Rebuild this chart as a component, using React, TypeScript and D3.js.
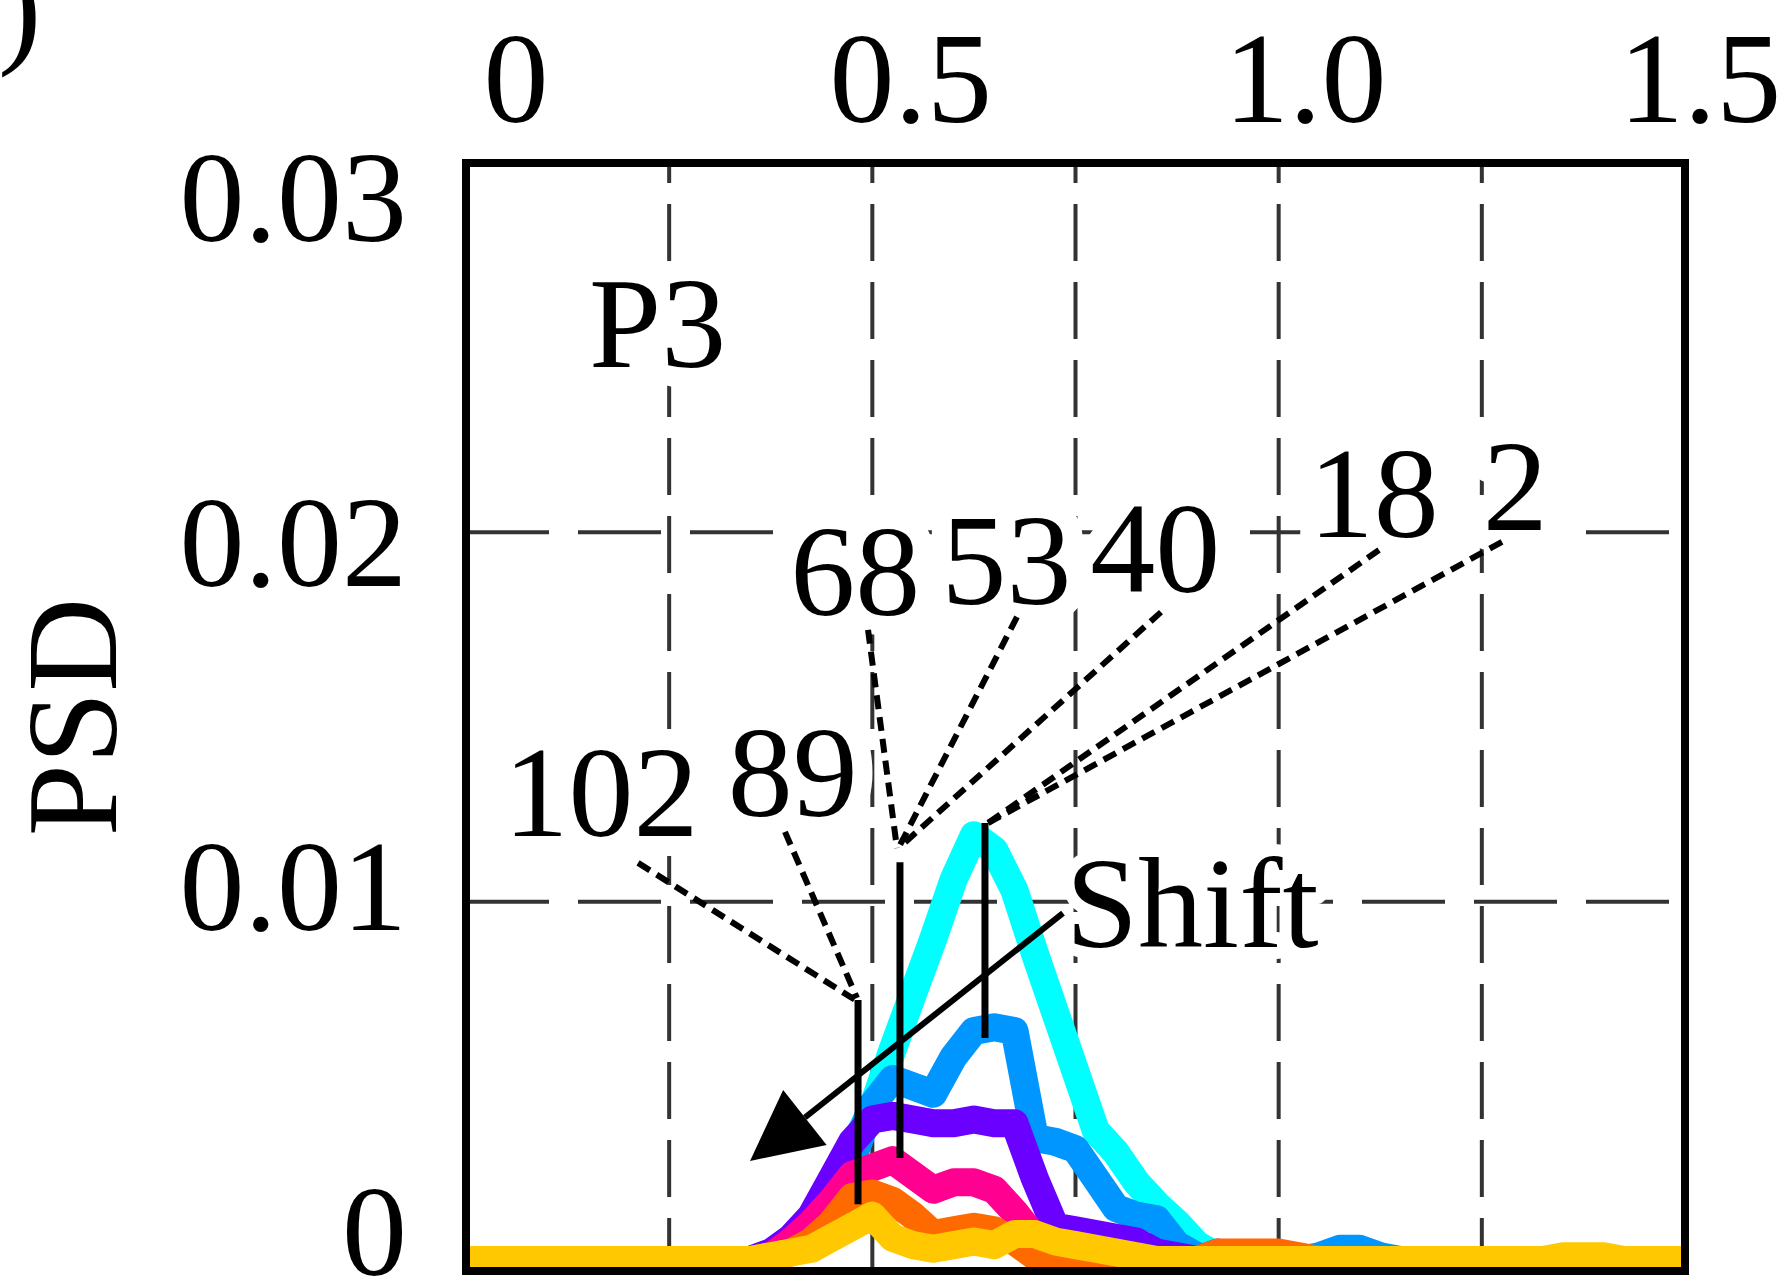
import React, { useEffect, useRef } from 'react';
import * as d3 from 'd3';

// frequency samples (top axis, 0 .. 1.5)
const freq = [
  0, 0.025, 0.05, 0.075, 0.1, 0.125, 0.15, 0.175, 0.2, 0.225,
  0.25, 0.275, 0.3, 0.325, 0.35, 0.375, 0.4, 0.425, 0.45, 0.475,
  0.5, 0.525, 0.55, 0.575, 0.6, 0.625, 0.65, 0.675, 0.7, 0.725,
  0.75, 0.775, 0.8, 0.825, 0.85, 0.875, 0.9, 0.925, 0.95, 0.975,
  1.0, 1.025, 1.05, 1.075, 1.1, 1.125, 1.15, 1.175, 1.2, 1.225,
  1.25, 1.275, 1.3, 1.325, 1.35, 1.375, 1.4, 1.425, 1.45, 1.475, 1.5,
];

// PSD curves, drawn in this order
const psdCyan = [
  0.0003, 0.0003, 0.0003, 0.0003, 0.0003, 0.0003, 0.0003, 0.0003, 0.0003, 0.0003,
  0.0003, 0.0003, 0.0003, 0.0003, 0.0003, 0.0004, 0.0007, 0.0012, 0.0020, 0.0033,
  0.0044, 0.0060, 0.0075, 0.0090, 0.0106, 0.0118, 0.0114, 0.0103, 0.0086, 0.0070,
  0.0054, 0.0038, 0.0032, 0.0024, 0.0018, 0.0013, 0.0007, 0.0004, 0.0003, 0.0003,
  0.0003, 0.0003, 0.0003, 0.0003, 0.0003, 0.0003, 0.0003, 0.0003, 0.0003, 0.0003,
  0.0003, 0.0003, 0.0003, 0.0003, 0.0003, 0.0003, 0.0003, 0.0003, 0.0003, 0.0003, 0.0003,
];
const psdBlue = [
  0.0003, 0.0003, 0.0003, 0.0003, 0.0003, 0.0003, 0.0003, 0.0003, 0.0003, 0.0003,
  0.0003, 0.0003, 0.0003, 0.0003, 0.0003, 0.0005, 0.0008, 0.0013, 0.0020, 0.0030,
  0.0045, 0.0052, 0.0050, 0.0048, 0.0058, 0.0065, 0.0066, 0.0065, 0.0036, 0.0035,
  0.0033, 0.0025, 0.0017, 0.0015, 0.0014, 0.0007, 0.0004, 0.0003, 0.0003, 0.0003,
  0.0003, 0.0003, 0.0004, 0.0006, 0.0006, 0.0004, 0.0003, 0.0003, 0.0003, 0.0003,
  0.0003, 0.0003, 0.0003, 0.0003, 0.0003, 0.0003, 0.0003, 0.0003, 0.0003, 0.0003, 0.0003,
];
const psdViolet = [
  0.0003, 0.0003, 0.0003, 0.0003, 0.0003, 0.0003, 0.0003, 0.0003, 0.0003, 0.0003,
  0.0003, 0.0003, 0.0003, 0.0003, 0.0003, 0.0005, 0.0009, 0.0015, 0.0025, 0.0035,
  0.0041, 0.0042, 0.0041, 0.0040, 0.0040, 0.0041, 0.0040, 0.0040, 0.0025, 0.0012,
  0.0011, 0.0010, 0.0009, 0.0008, 0.0005, 0.0004, 0.0003, 0.0005, 0.0003, 0.0003,
  0.0003, 0.0003, 0.0003, 0.0003, 0.0003, 0.0003, 0.0003, 0.0003, 0.0003, 0.0003,
  0.0003, 0.0003, 0.0003, 0.0003, 0.0003, 0.0003, 0.0003, 0.0003, 0.0003, 0.0003, 0.0003,
];
const psdPink = [
  0.0003, 0.0003, 0.0003, 0.0003, 0.0003, 0.0003, 0.0003, 0.0003, 0.0003, 0.0003,
  0.0003, 0.0003, 0.0003, 0.0003, 0.0003, 0.0004, 0.0008, 0.0013, 0.0019, 0.0026,
  0.0028, 0.0030, 0.0026, 0.0022, 0.0024, 0.0024, 0.0022, 0.0016, 0.0009, 0.0005,
  0.0003, 0.0003, 0.0003, 0.0003, 0.0003, 0.0003, 0.0003, 0.0003, 0.0003, 0.0003,
  0.0003, 0.0003, 0.0003, 0.0003, 0.0003, 0.0003, 0.0003, 0.0003, 0.0003, 0.0003,
  0.0003, 0.0003, 0.0003, 0.0003, 0.0003, 0.0003, 0.0003, 0.0003, 0.0003, 0.0003, 0.0003,
];
const psdOrange = [
  0.0003, 0.0003, 0.0003, 0.0003, 0.0003, 0.0003, 0.0003, 0.0003, 0.0003, 0.0003,
  0.0003, 0.0003, 0.0003, 0.0003, 0.0003, 0.0004, 0.0005, 0.0008, 0.0013, 0.0020,
  0.0021, 0.0019, 0.0015, 0.0010, 0.0011, 0.0012, 0.0011, 0.0008, 0.0004, 0.0002,
  0.0002, 0.0003, 0.0003, 0.0003, 0.0003, 0.0003, 0.0003, 0.0005, 0.0005, 0.0005,
  0.0005, 0.0004, 0.0003, 0.0003, 0.0003, 0.0003, 0.0003, 0.0003, 0.0003, 0.0003,
  0.0003, 0.0003, 0.0003, 0.0003, 0.0003, 0.0003, 0.0003, 0.0003, 0.0003, 0.0003, 0.0003,
];
const psdGold = [
  0.0003, 0.0003, 0.0003, 0.0003, 0.0003, 0.0003, 0.0003, 0.0003, 0.0003, 0.0003,
  0.0003, 0.0003, 0.0003, 0.0003, 0.0003, 0.0004, 0.0005, 0.0006, 0.0009, 0.0012,
  0.0015, 0.0009, 0.0007, 0.0006, 0.0007, 0.0008, 0.0007, 0.0010, 0.0010, 0.0008,
  0.0007, 0.0006, 0.0005, 0.0004, 0.0003, 0.0003, 0.0003, 0.0003, 0.0003, 0.0003,
  0.0003, 0.0003, 0.0003, 0.0003, 0.0003, 0.0003, 0.0003, 0.0003, 0.0003, 0.0003,
  0.0003, 0.0003, 0.0003, 0.0003, 0.0004, 0.0004, 0.0004, 0.0003, 0.0003, 0.0003, 0.0003,
];
const seriesValues = [psdCyan, psdBlue, psdViolet, psdPink, psdOrange, psdGold];
const seriesColors = ['#00ffff', '#0096ff', '#6a00ff', '#ff0090', '#ff6a00', '#ffc800'];

const xTicks = [0, 0.5, 1.0, 1.5];
const yTicks = [0, 0.01, 0.02, 0.03];
const xGrid = [0.25, 0.5, 0.75, 1.0, 1.25];
const yGrid = [0.01, 0.02];

// annotation numbers and where their dashed leaders go
const peakLabels = ['102', '89', '68', '53', '40', '18', '2'];
const labelX = [0.046, 0.322, 0.399, 0.585, 0.768, 1.037, 1.251];
const labelY = [0.01178, 0.01232, 0.01776, 0.01806, 0.01838, 0.01987, 0.02006];
const leaderFromX = [0.2117, 0.3925, 0.4947, 0.678, 0.8552, 1.1235, 1.2748];
const leaderFromY = [0.01105, 0.01189, 0.01736, 0.01771, 0.01784, 0.01952, 0.01974];
const leaderToX = [0.4787, 0.4811, 0.5303, 0.534, 0.534, 0.6423, 0.6423];
const leaderToY = [0.00734, 0.00739, 0.01145, 0.01153, 0.01148, 0.01213, 0.01213];

// solid peak markers
const markerX = [0.4824, 0.534, 0.6386];
const markerTop = [0.00734, 0.01107, 0.01213];
const markerBottom = [0.00181, 0.00306, 0.00631];

// "Shift" arrow
const shiftFrom = [0.7346, 0.00969];
const shiftTo = [0.3495, 0.00298];
const shiftText = [0.738, 0.00877];
const panelText = [0.1514, 0.02448];

const App = () => {
  const ref = useRef<SVGSVGElement>(null);

  useEffect(() => {
    const width = 1787;
    const height = 1281;
    const left = 466, right = 1685, top = 163, bottom = 1271;
    const font = "'Liberation Serif', 'Times New Roman', serif";

    const svg = d3.select(ref.current);
    svg.selectAll('*').remove();
    svg.attr('width', width).attr('height', height);

    const x = d3.scaleLinear().domain([0, 1.5]).range([left, right]);
    const y = d3.scaleLinear().domain([0, 0.03]).range([bottom, top]);
    // tick labels sit a little off the grid in the original figure
    const xLab = d3.scaleLinear().domain([0, 1.5]).range([left + 50, right + 15]);
    const yLab = d3.scaleLinear().domain([0, 0.03]).range([bottom + 4, top + 78]);

    svg.append('rect').attr('width', width).attr('height', height).attr('fill', '#fff');

    svg.append('defs').append('clipPath').attr('id', 'plotclip')
      .append('rect').attr('x', left).attr('y', top)
      .attr('width', right - left).attr('height', bottom - top);

    // grid
    svg.selectAll('.vgrid').data(xGrid).enter().append('line')
      .attr('x1', d => x(d)).attr('x2', d => x(d))
      .attr('y1', top).attr('y2', bottom)
      .attr('stroke', '#333').attr('stroke-width', 4)
      .attr('stroke-dasharray', '57 21').attr('stroke-dashoffset', 37);
    svg.selectAll('.hgrid').data(yGrid).enter().append('line')
      .attr('x1', left).attr('x2', right)
      .attr('y1', d => y(d)).attr('y2', d => y(d))
      .attr('stroke', '#333').attr('stroke-width', 4)
      .attr('stroke-dasharray', '83 29');

    // labels inside the plot (white halo hides the grid behind them)
    const inner = svg.append('g')
      .style('font-family', font).style('font-size', '130px')
      .attr('fill', '#000').attr('stroke', '#fff').attr('stroke-width', 40)
      .attr('stroke-linejoin', 'round').attr('paint-order', 'stroke');
    inner.selectAll('.plabel').data(peakLabels).enter().append('text')
      .attr('x', (d, i) => x(labelX[i])).attr('y', (d, i) => y(labelY[i]))
      .text(d => d);
    inner.append('text').attr('x', x(panelText[0])).attr('y', y(panelText[1])).text('P3');
    inner.append('text').attr('x', x(shiftText[0])).attr('y', y(shiftText[1]))
      .attr('stroke-width', 24).text('Shift');

    // curves
    const line = d3.line<number>()
      .x((d, i) => x(freq[i]))
      .y(d => y(d));
    svg.append('g').attr('clip-path', 'url(#plotclip)')
      .selectAll('path').data(seriesValues).enter().append('path')
      .attr('d', d => line(d))
      .attr('fill', 'none')
      .attr('stroke', (d, i) => seriesColors[i])
      .attr('stroke-width', 28)
      .attr('stroke-linejoin', 'round');

    // peak markers
    svg.selectAll('.marker').data(markerX).enter().append('line')
      .attr('x1', d => x(d)).attr('x2', d => x(d))
      .attr('y1', (d, i) => y(markerTop[i])).attr('y2', (d, i) => y(markerBottom[i]))
      .attr('stroke', '#000').attr('stroke-width', 7);

    // dashed leaders
    svg.selectAll('.leader').data(peakLabels).enter().append('line')
      .attr('x1', (d, i) => x(leaderFromX[i])).attr('y1', (d, i) => y(leaderFromY[i]))
      .attr('x2', (d, i) => x(leaderToX[i])).attr('y2', (d, i) => y(leaderToY[i]))
      .attr('stroke', '#000').attr('stroke-width', 6)
      .attr('stroke-dasharray', '14 8');

    // shift arrow
    const sx = x(shiftFrom[0]), sy = y(shiftFrom[1]);
    const tx = x(shiftTo[0]), ty = y(shiftTo[1]);
    const len = Math.hypot(tx - sx, ty - sy);
    const ux = (tx - sx) / len, uy = (ty - sy) / len;
    const headLen = 70, headHalf = 35;
    const bx = tx - ux * headLen, by = ty - uy * headLen;
    svg.append('line')
      .attr('x1', sx).attr('y1', sy).attr('x2', bx).attr('y2', by)
      .attr('stroke', '#000').attr('stroke-width', 6);
    svg.append('polygon')
      .attr('points', [
        [tx, ty],
        [bx - uy * headHalf, by + ux * headHalf],
        [bx + uy * headHalf, by - ux * headHalf],
      ].map(p => p.join(',')).join(' '))
      .attr('fill', '#000');

    // frame
    svg.append('rect')
      .attr('x', left).attr('y', top)
      .attr('width', right - left).attr('height', bottom - top)
      .attr('fill', 'none').attr('stroke', '#000').attr('stroke-width', 8);

    // axis labels
    const labels = svg.append('g').style('font-family', font).style('font-size', '130px');
    labels.selectAll('.xt').data(xTicks).enter().append('text')
      .attr('x', d => xLab(d)).attr('y', 122)
      .attr('text-anchor', 'middle')
      .text(d => (d === 0 ? '0' : d.toFixed(1)));
    labels.selectAll('.yt').data(yTicks).enter().append('text')
      .attr('x', left - 59).attr('y', d => yLab(d))
      .attr('text-anchor', 'end')
      .text(d => (d === 0 ? '0' : d.toFixed(2)));
    labels.append('text')
      .attr('transform', `translate(116,${(top + bottom) / 2})rotate(-90)`)
      .attr('text-anchor', 'middle')
      .text('PSD');
    // panel letter, mostly cut off at the left edge
    labels.append('text').attr('x', -2).attr('y', 50).text(')');
  }, []);

  return (
    <div style={{ position: 'absolute', left: 0, top: 0 }}>
      <svg ref={ref}></svg>
    </div>
  );
};

export default App;
